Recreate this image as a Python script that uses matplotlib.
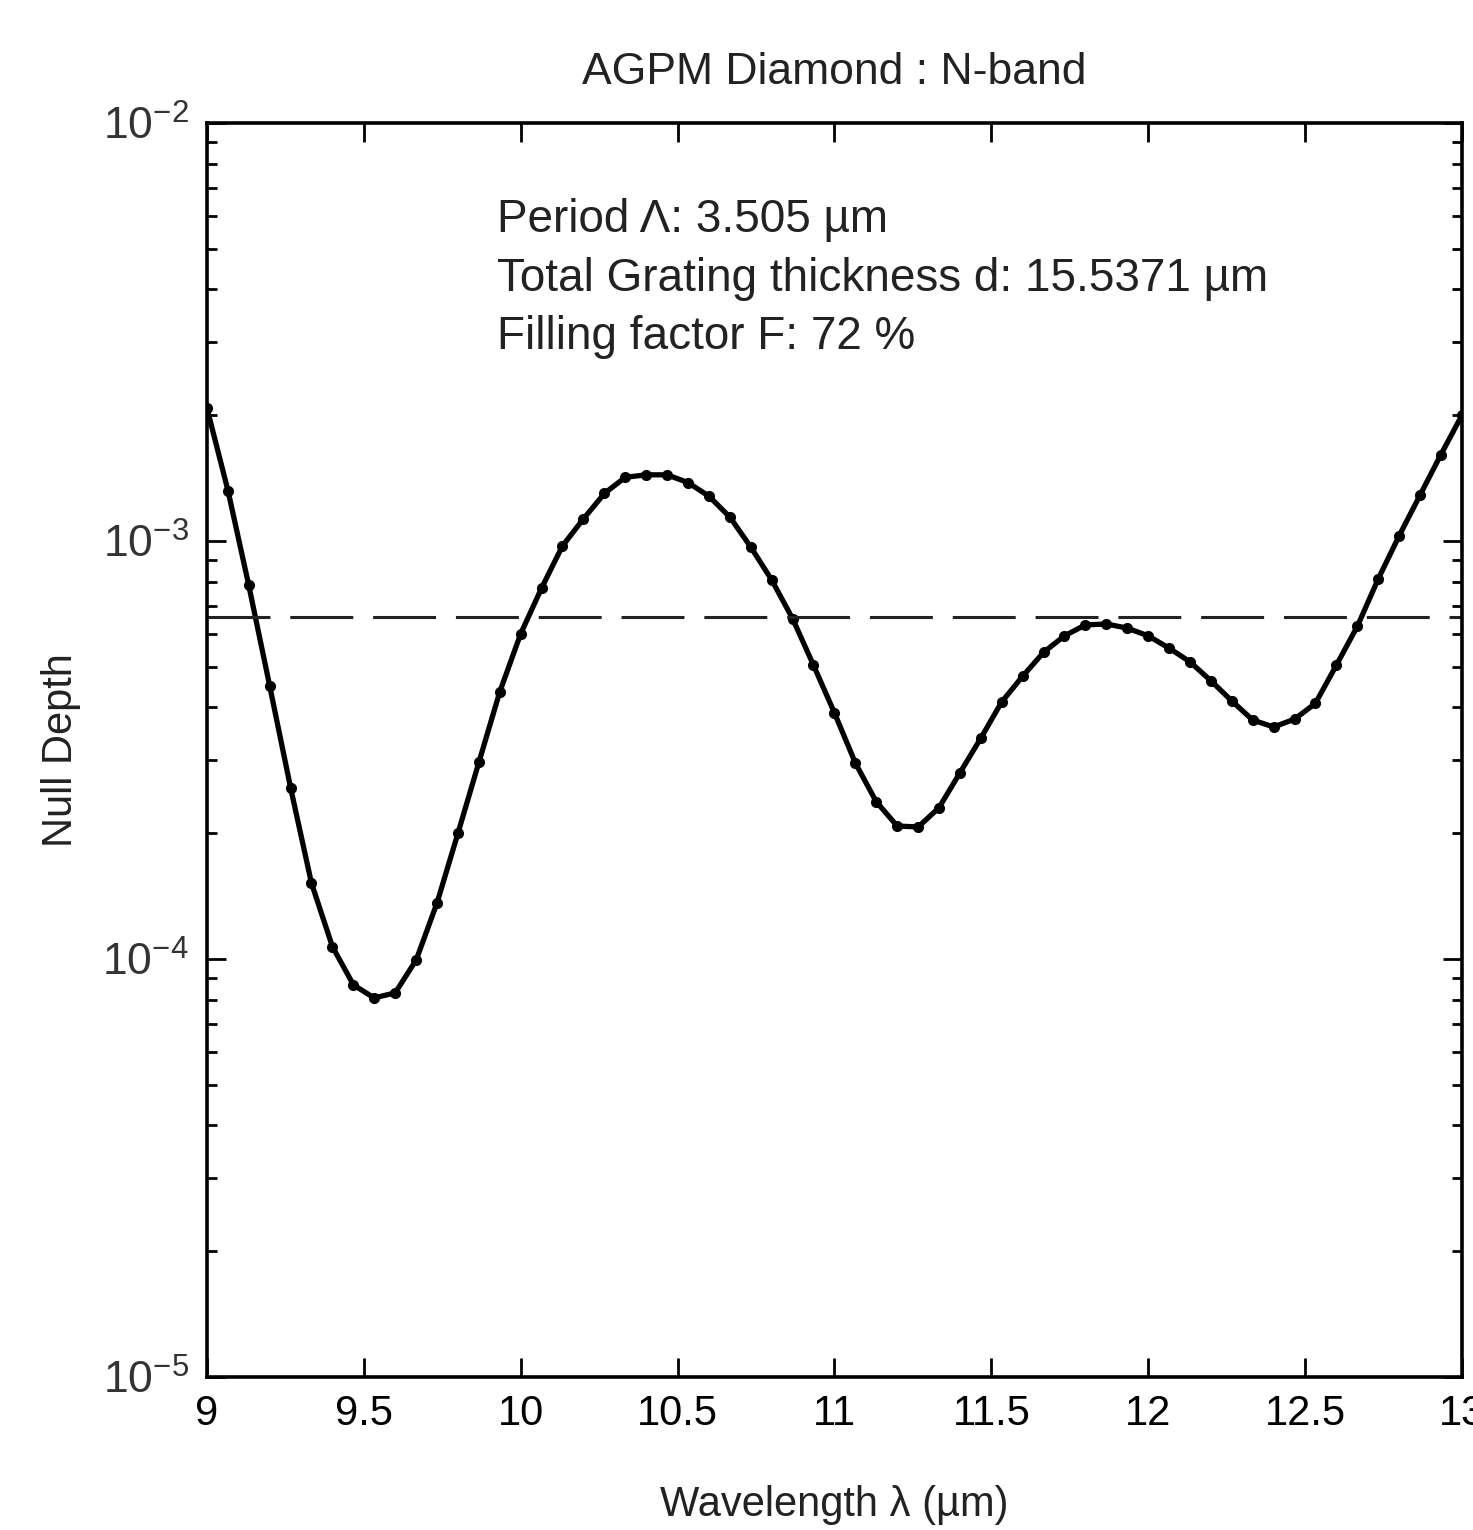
import matplotlib.pyplot as plt
from matplotlib.ticker import FixedLocator, LogLocator, NullFormatter

plt.rcParams['font.family'] = ['Liberation Sans', 'DejaVu Sans']
plt.rcParams['mathtext.fontset'] = 'custom'
plt.rcParams['mathtext.rm'] = 'Liberation Sans'
plt.rcParams['mathtext.it'] = 'Liberation Sans:italic'

# wavelength grid (um), 61 samples from 9 to 13
wavelength = [9.000, 9.067, 9.133, 9.200, 9.267, 9.333, 9.400, 9.467, 9.533, 9.600,
              9.667, 9.733, 9.800, 9.867, 9.933, 10.000, 10.067, 10.133, 10.200, 10.267,
              10.333, 10.400, 10.467, 10.533, 10.600, 10.667, 10.733, 10.800, 10.867, 10.933,
              11.000, 11.067, 11.133, 11.200, 11.267, 11.333, 11.400, 11.467, 11.533, 11.600,
              11.667, 11.733, 11.800, 11.867, 11.933, 12.000, 12.067, 12.133, 12.200, 12.267,
              12.333, 12.400, 12.467, 12.533, 12.600, 12.667, 12.733, 12.800, 12.867, 12.933,
              13.000]
null_depth = [2.08e-3, 1.32e-3, 7.85e-4, 4.50e-4, 2.56e-4, 1.52e-4, 1.07e-4, 8.67e-5, 8.07e-5, 8.30e-5,
              9.95e-5, 1.36e-4, 2.00e-4, 2.96e-4, 4.35e-4, 6.00e-4, 7.73e-4, 9.73e-4, 1.13e-3, 1.30e-3,
              1.42e-3, 1.44e-3, 1.44e-3, 1.38e-3, 1.28e-3, 1.14e-3, 9.68e-4, 8.07e-4, 6.51e-4, 5.05e-4,
              3.88e-4, 2.94e-4, 2.38e-4, 2.08e-4, 2.07e-4, 2.30e-4, 2.79e-4, 3.38e-4, 4.12e-4, 4.75e-4,
              5.42e-4, 5.93e-4, 6.30e-4, 6.33e-4, 6.19e-4, 5.93e-4, 5.54e-4, 5.14e-4, 4.63e-4, 4.14e-4,
              3.73e-4, 3.59e-4, 3.75e-4, 4.09e-4, 5.05e-4, 6.26e-4, 8.11e-4, 1.03e-3, 1.29e-3, 1.61e-3,
              2.00e-3]
mean_null = 6.58e-4

xticks = [9, 9.5, 10, 10.5, 11, 11.5, 12, 12.5, 13]
xtick_labels = ['9', '9.5', '10', '10.5', '11', '11.5', '12', '12.5', '13']
yticks = [1e-5, 1e-4, 1e-3, 1e-2]
ytick_labels = [r'$10^{-5}$', r'$10^{-4}$', r'$10^{-3}$', r'$10^{-2}$']

info = ['Period \u039b: 3.505 \u00b5m',
        'Total Grating thickness d: 15.5371 \u00b5m',
        'Filling factor F: 72 %']

fig = plt.figure(figsize=(14.73, 15.30), dpi=100)
ax = fig.add_axes([0.1405, 0.1, 0.852, 0.8196])

ax.plot(wavelength, null_depth, color='black', lw=3.8, marker='o', ms=7)
ax.plot([9, 13], [mean_null, mean_null], color='#222222', lw=2.2, dashes=(20.6, 6.5))

ax.set_yscale('log')
ax.set_xlim(9, 13)
ax.set_ylim(1e-5, 1e-2)

ax.set_xticks(xticks)
ax.set_xticklabels(xtick_labels, fontsize=30, color='black')
ax.yaxis.set_major_locator(FixedLocator(yticks))
ax.set_yticklabels(ytick_labels, fontsize=32, color='#333333')
ax.yaxis.set_minor_locator(LogLocator(base=10, subs=range(2, 10)))
ax.yaxis.set_minor_formatter(NullFormatter())

ax.tick_params(which='both', direction='in', top=True, right=True, width=2)
ax.tick_params(which='major', length=14)
ax.tick_params(which='minor', length=7)
ax.tick_params(axis='x', pad=12)
ax.tick_params(axis='y', pad=13)
for s in ax.spines.values():
    s.set_linewidth(2.6)

ax.set_title('AGPM Diamond : N-band', fontsize=32, color='#222222', pad=28)
ax.set_xlabel('Wavelength \u03bb (\u00b5m)', fontsize=30, color='#222222')
ax.set_ylabel('Null Depth', fontsize=30, color='#222222')
ax.xaxis.set_label_coords(0.5, -0.102)
ax.yaxis.set_label_coords(-0.116, 0.5)
ax.xaxis.label.set_va('center')
ax.yaxis.label.set_va('center')

for i, line in enumerate(info):
    ax.text(0.231, 0.923 - i * 0.047, line, transform=ax.transAxes,
            fontsize=33, color='#222222', va='center', ha='left')

fig.savefig('out.png', dpi=100, facecolor='white')
